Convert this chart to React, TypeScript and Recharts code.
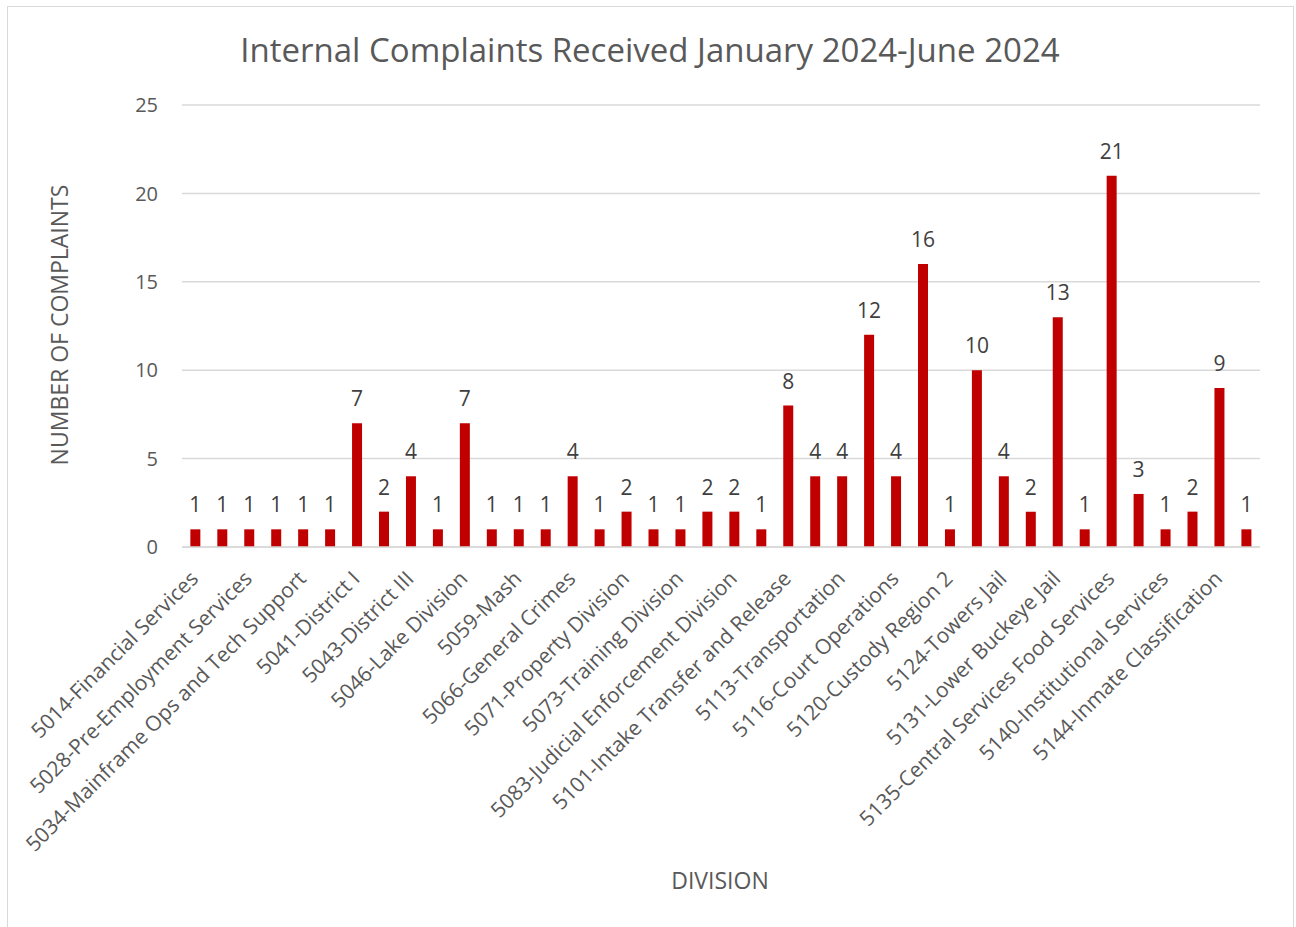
import React from 'react';
import { BarChart, Bar, XAxis, YAxis, CartesianGrid, LabelList } from 'recharts';

const divisions: string[] = [
  '5014-Financial Services', '5021', '5028-Pre-Employment Services', '5031',
  '5034-Mainframe Ops and Tech Support', '5037', '5041-District I', '5042',
  '5043-District III', '5044', '5046-Lake Division', '5050',
  '5059-Mash', '5062', '5066-General Crimes', '5068',
  '5071-Property Division', '5072', '5073-Training Division', '5078',
  '5083-Judicial Enforcement Division', '5090', '5101-Intake Transfer and Release', '5110',
  '5113-Transportation', '5115', '5116-Court Operations', '5118',
  '5120-Custody Region 2', '5122', '5124-Towers Jail', '5128',
  '5131-Lower Buckeye Jail', '5133', '5135-Central Services Food Services', '5138',
  '5140-Institutional Services', '5142', '5144-Inmate Classification', '5146',
];

const complaints: number[] = [
  1, 1, 1, 1, 1, 1, 7, 2, 4, 1,
  7, 1, 1, 1, 4, 1, 2, 1, 1, 2,
  2, 1, 8, 4, 4, 12, 4, 16, 1, 10,
  4, 2, 13, 1, 21, 3, 1, 2, 9, 1,
];

const yTicks: number[] = [0, 5, 10, 15, 20, 25];

const titleText = 'Internal Complaints Received January 2024-June 2024';
const yTitle = 'NUMBER OF COMPLAINTS';
const xTitle = 'DIVISION';

const data = divisions.map((name, i) => ({ name, value: complaints[i] }));

const FONT = '"Open Sans", Calibri, sans-serif';
const W = 1285;
const H = 920;

const DivisionTick = (props: any) => {
  const { x, y, payload } = props;
  return (
    <g transform={`translate(${x + 4},${y + 27})`}>
      <text
        transform="rotate(-45)"
        textAnchor="end"
        fill="#595959"
        fontSize={21}
        fontFamily={FONT}
      >
        {payload.value}
      </text>
    </g>
  );
};

export default function App() {
  return (
    <div
      style={{
        position: 'absolute',
        left: 7,
        top: 6,
        width: W,
        height: H + 10,
        border: '1px solid #d9d9d9',
        background: '#fff',
        fontFamily: FONT,
      }}
    >
      <BarChart
        width={W}
        height={H}
        data={data}
        margin={{ top: 98, right: 33, left: 0, bottom: 0 }}
        barCategoryGap="31%"
      >
        <CartesianGrid vertical={false} stroke="#d9d9d9" strokeWidth={1.5} />
        <XAxis
          dataKey="name"
          interval={1}
          height={380}
          tickLine={false}
          axisLine={{ stroke: '#d9d9d9', strokeWidth: 1.5 }}
          tick={<DivisionTick />}
          tickMargin={0}
        />
        <YAxis
          width={174}
          domain={[0, 25]}
          ticks={yTicks}
          tickLine={false}
          axisLine={false}
          tickMargin={18}
          tick={{ fill: '#595959', fontSize: 20, fontFamily: FONT }}
        />
        <Bar dataKey="value" fill="#C00000" isAnimationActive={false}>
          <LabelList
            dataKey="value"
            position="top"
            offset={17}
            fill="#404040"
            fontSize={21}
            fontFamily={FONT}
          />
        </Bar>
      </BarChart>
      <svg
        width={W}
        height={H}
        style={{ position: 'absolute', left: 0, top: 0, pointerEvents: 'none' }}
      >
        <text x={642} y={55} textAnchor="middle" fill="#595959" fontSize={33} fontFamily={FONT}>
          {titleText}
        </text>
        <text
          x={60}
          y={318}
          textAnchor="middle"
          fill="#595959"
          fontSize={23}
          fontFamily={FONT}
          transform="rotate(-90 60 318)"
        >
          {yTitle}
        </text>
        <text x={712} y={882} textAnchor="middle" fill="#595959" fontSize={23} fontFamily={FONT}>
          {xTitle}
        </text>
      </svg>
    </div>
  );
}
